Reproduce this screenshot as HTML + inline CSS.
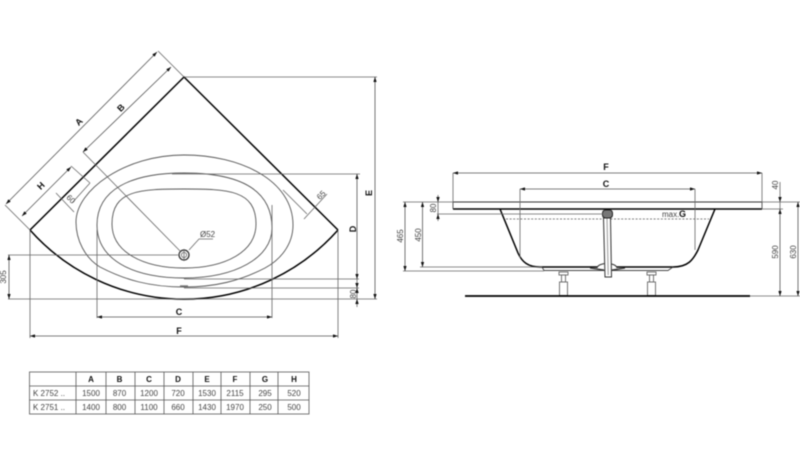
<!DOCTYPE html>
<html>
<head>
<meta charset="utf-8">
<style>
html,body{margin:0;padding:0;background:#fff;width:800px;height:465px;overflow:hidden}
svg{display:block;filter:blur(.45px)}
text{font-family:"Liberation Sans",sans-serif;fill:#444;font-size:8px}
.b{font-weight:bold;fill:#111;font-size:9px}
.t{text-anchor:middle}
.thin{fill:none;stroke:#666;stroke-width:.8}
.med{fill:none;stroke:#555;stroke-width:.9}
.dim{fill:none;stroke:#555;stroke-width:.8;marker-start:url(#a);marker-end:url(#a)}
.k{fill:none;stroke:#000;stroke-width:1.5}
</style>
</head>
<body>
<svg width="800" height="465" viewBox="0 0 800 465" xmlns="http://www.w3.org/2000/svg">
<defs>
<marker id="a" viewBox="0 0 6 4" refX="6" refY="2" markerWidth="5" markerHeight="3.4" markerUnits="userSpaceOnUse" orient="auto-start-reverse">
<path d="M6,2 L0,0 L0,4 Z" fill="#111"/>
</marker>
</defs>

<!-- PLAN VIEW -->
<path class="k" d="M30,230 L184,77 L338,230"/>
<path class="k" d="M30,230 A206,206 0 0 0 338,230"/>
<path class="med" d="M184,155 C240,155 293,180 293,225 C293,245 280,260 265,268 C240,281 215,287 184,287 C150,287 125,280 100,267 C85,258 76,240 76,222 C76,190 125,155 184,155 Z"/>
<path class="med" d="M184,173 C240,173 272,190 272,228 C272,258 235,278 184,278 C130,278 97,258 97,225 C97,190 130,173 184,173 Z"/>
<path class="med" d="M184,189 C228,189 256,190 256,224 C256,252 225,268 184,268 C143,268 112,252 112,224 C112,190 140,189 184,189 Z"/>
<path class="thin" d="M283,190 L307,214 M90,183 L72,203"/>
<path d="M180,286 H188" stroke="#777" stroke-width="1.400"/>

<!-- drain -->
<circle cx="184" cy="255" r="5" fill="none" stroke="#333" stroke-width="1.300"/>
<circle cx="184" cy="255" r="2.600" fill="none" stroke="#666" stroke-width=".8"/>
<path class="thin" d="M83,152 L181,252 M178,255 H8 M184,249 V261"/>
<path class="thin" d="M189,250 L199,239 H213"/>
<text x="200" y="237">Ø52</text>

<!-- plan extension lines -->
<path class="thin" d="M158,51 L184,77 M5,205 L30,230 M71,166 L90,183"/>
<path class="thin" d="M184,77 H377 M172,174 H360 M184,279 H359 M184,288 H359 M8,299 H377"/>
<path class="thin" d="M97,230 V318 M272,205 V318 M30,230 V338 M338,230 V338"/>

<!-- plan dimension lines -->
<path class="dim" d="M6,204 L157,52"/>
<path class="dim" d="M83,152 L171,67"/>
<path class="dim" d="M22,216 L71,167"/>
<path class="dim" d="M97,317 H272"/>
<path class="dim" d="M30,336 H338"/>
<path class="dim" d="M375,77 V299"/>
<path class="dim" d="M357,174 V279"/>
<path class="dim" d="M9,255 V299"/>
<path class="thin" d="M357,279 V307 M327,194 L304,219 M56,193 L74,212"/>
<path d="M357,288 l-1.700,-5 h3.400z M357,288 l-1.700,5 h3.400z M357,299 l-1.700,5 h3.400z" fill="#111"/>

<!-- plan labels -->
<text class="b t" transform="translate(81,124) rotate(-45)">A</text>
<text class="b t" transform="translate(123,110) rotate(-45)">B</text>
<text class="b t" transform="translate(43,188) rotate(-45)">H</text>
<text class="t" transform="translate(69,201) rotate(45)">60</text>
<text class="t" transform="translate(323,197) rotate(-45)">65</text>
<text class="t" transform="translate(6,277) rotate(-90)">305</text>
<text class="t" transform="translate(356,294) rotate(-90)">80</text>
<text class="b t" transform="translate(356,229) rotate(-90)">D</text>
<text class="b t" transform="translate(372,193) rotate(-90)">E</text>
<text class="b t" x="179" y="315">C</text>
<text class="b t" x="179" y="334">F</text>

<!-- SIDE VIEW -->
<path d="M453,202 H762 V209 M453,202 V209" fill="none" stroke="#333" stroke-width="1"/>
<path class="k" d="M453,209 H762"/>
<path class="k" d="M500,209 L518,253 C522,262 528,267 540,267 H673 C688,267 693,260 698,250 L715,209"/>
<path d="M542,267 L544,270.500 H668 L673,267" fill="none" stroke="#444" stroke-width=".9"/>
<path d="M506,219 H709" stroke="#555" stroke-width=".8" stroke-dasharray="2 1.600" fill="none"/>
<text x="662" y="217">max.</text>
<text class="b" x="679" y="217">G</text>

<!-- overflow and waste -->
<path d="M597,268 C598,262 616,262 617,268" fill="#fff" stroke="#333" stroke-width="1"/>
<path d="M590,268 L604,270 M612,270 L625,268" stroke="#333" stroke-width="1.200" fill="none"/>
<path d="M603.500,218 L605,277 H611.500 L610.500,218 Z" fill="#fff" stroke="#333" stroke-width="1"/>
<path d="M607,218 L608.200,275" stroke="#999" stroke-width="1"/>
<rect x="602.500" y="210" width="10" height="8" rx="3" fill="#777" stroke="#222"/>

<!-- feet -->
<g fill="#fff" stroke="#666" stroke-width=".9">
<rect x="559" y="272" width="9" height="3"/><rect x="561.500" y="275" width="4" height="7"/><rect x="559.500" y="282" width="8" height="13.500"/>
<rect x="647" y="272" width="9" height="3"/><rect x="649.500" y="275" width="4" height="7"/><rect x="647.500" y="282" width="8" height="13.500"/>
</g>
<path d="M465,296 H750" stroke="#000" stroke-width="1.800"/>

<!-- side extension lines -->
<path class="thin" d="M453,173 V209 M762,173 V209 M520,189 V258 M695,189 V250"/>
<path class="thin" d="M403,202 H453 M437,214 H603 M420,267 H542 M403,271 H544 M762,202 H800 M762,209 H783 M750,296 H800"/>

<!-- side dimension lines -->
<path class="dim" d="M453,173 H762"/>
<path class="dim" d="M520,189 H695"/>
<path class="dim" d="M405,202 V271"/>
<path class="dim" d="M422.500,202 V267"/>
<path class="thin" d="M438,195 V221 M780,182 V209"/>
<path d="M438,202 l-1.700,-5 h3.400z M438,214 l-1.700,5 h3.400z M780,202 l-1.700,-5 h3.400z" fill="#111"/>
<path class="dim" d="M780,209 V296"/>
<path class="dim" d="M798,202 V296"/>

<!-- side labels -->
<text class="b t" x="606" y="170">F</text>
<text class="b t" x="606" y="187">C</text>
<text class="t" transform="translate(436,208) rotate(-90)">80</text>
<text class="t" transform="translate(403,236) rotate(-90)">465</text>
<text class="t" transform="translate(421,235) rotate(-90)">450</text>
<text class="t" transform="translate(778,185) rotate(-90)">40</text>
<text class="t" transform="translate(778,252) rotate(-90)">590</text>
<text class="t" transform="translate(796,252) rotate(-90)">630</text>

<!-- TABLE -->
<g fill="none" stroke="#555" stroke-width=".8">
<rect x="29.500" y="372" width="279.500" height="42"/>
<path d="M29.500,386 H309 M29.500,400 H309 M76,372 V414 M106,372 V414 M135,372 V414 M164,372 V414 M193,372 V414 M221,372 V414 M250,372 V414 M278,372 V414"/>
</g>
<text class="b t" x="91" y="382" style="font-size:8px">A</text>
<text class="b t" x="119.500" y="382" style="font-size:8px">B</text>
<text class="b t" x="149" y="382" style="font-size:8px">C</text>
<text class="b t" x="178" y="382" style="font-size:8px">D</text>
<text class="b t" x="207" y="382" style="font-size:8px">E</text>
<text class="b t" x="235" y="382" style="font-size:8px">F</text>
<text class="b t" x="265" y="382" style="font-size:8px">G</text>
<text class="b t" x="294" y="382" style="font-size:8px">H</text>
<text x="33" y="396">K 2752 ..</text>
<text class="t" x="91" y="396">1500</text>
<text class="t" x="119.500" y="396">870</text>
<text class="t" x="149" y="396">1200</text>
<text class="t" x="178" y="396">720</text>
<text class="t" x="207" y="396">1530</text>
<text class="t" x="235" y="396">2115</text>
<text class="t" x="265" y="396">295</text>
<text class="t" x="294" y="396">520</text>
<text x="33" y="410">K 2751 ..</text>
<text class="t" x="91" y="410">1400</text>
<text class="t" x="119.500" y="410">800</text>
<text class="t" x="149" y="410">1100</text>
<text class="t" x="178" y="410">660</text>
<text class="t" x="207" y="410">1430</text>
<text class="t" x="235" y="410">1970</text>
<text class="t" x="265" y="410">250</text>
<text class="t" x="294" y="410">500</text>
</svg>
</body>
</html>
